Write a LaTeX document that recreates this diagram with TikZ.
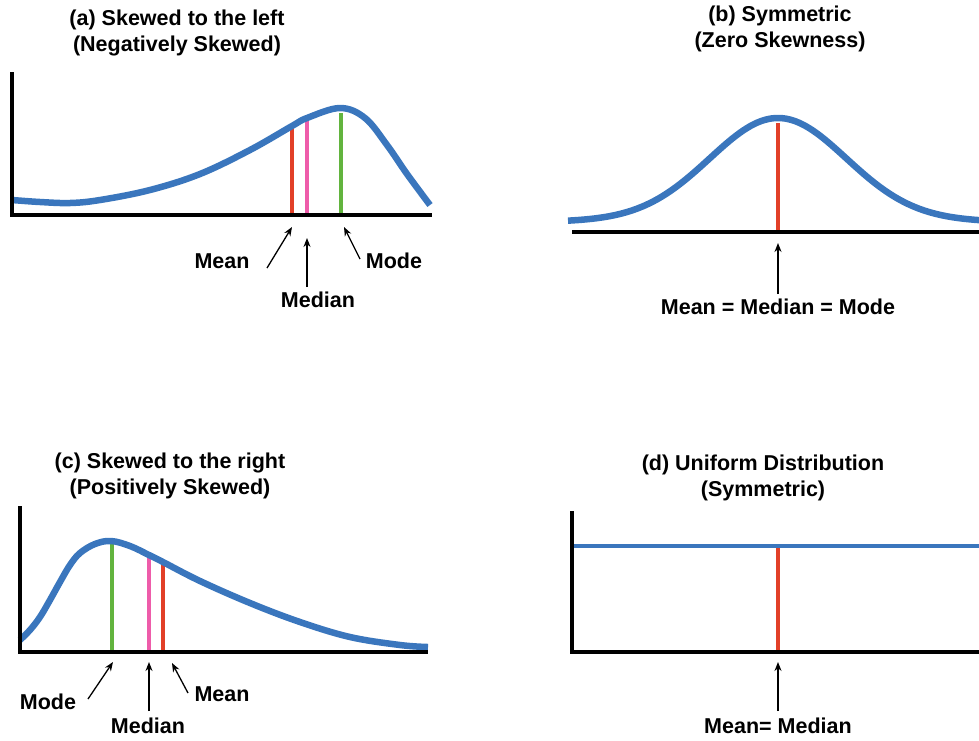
\documentclass[tikz,border=0pt]{standalone}
\usepackage{fontspec}
\setmainfont{Liberation Sans}
\usetikzlibrary{arrows.meta}
\definecolor{curveblue}{RGB}{58,118,189}
\definecolor{meanred}{RGB}{226,64,40}
\definecolor{medpink}{RGB}{238,92,170}
\definecolor{modegreen}{RGB}{98,180,62}
\begin{document}
\begin{tikzpicture}[x=1pt, y=-1pt,
  axis/.style={line width=4pt, line join=miter},
  curve/.style={curveblue, line width=6.5pt},
  statline/.style={line width=3.8pt},
  pointer/.style={-{Stealth[length=9pt,width=7pt]}, line width=1.3pt},
  lbl/.style={font=\fontsize{21.5}{24}\selectfont\bfseries, inner sep=0pt},
  ttl/.style={font=\fontsize{21.5}{26}\selectfont\bfseries, align=center, inner sep=0pt}]
  \useasboundingbox (0,0) rectangle (979,740);

  % (a) skewed to the left
  \node[ttl] (titleA) at (177,33) {(a) Skewed to the left\\(Negatively Skewed)};
  \draw[statline, meanred] (292,215) -- (292,127);
  \draw[statline, medpink] (307,215) -- (307,119);
  \draw[statline, modegreen] (341,215) -- (341,113);
  \draw[curve] plot[smooth, tension=0.6] coordinates {(12,200) (40,202) (70,203) (100,200) (150,190) (200,174) (250,150) (292,126) (307,118) (340,108) (365,118) (387,145) (407,174) (430,205)};
  \draw[axis] (12,72) -- (12,215) -- (432,215);
  \node[lbl] (meanA) at (222,261) {Mean};
  \node[lbl] (medianA) at (318,300) {Median};
  \node[lbl] (modeA) at (394,261) {Mode};
  \coordinate (meanAfrom) at (267,268);
  \coordinate (meanAto) at (292,227);
  \coordinate (medianAfrom) at (307,287);
  \coordinate (medianAto) at (307,238);
  \coordinate (modeAfrom) at (360,259);
  \coordinate (modeAto) at (344,227);
  \draw[pointer] (meanAfrom) -- (meanAto);
  \draw[pointer] (medianAfrom) -- (medianAto);
  \draw[pointer] (modeAfrom) -- (modeAto);

  % (b) symmetric
  \node[ttl] (titleB) at (780,29) {(b) Symmetric\\(Zero Skewness)};
  \draw[statline, meanred] (778,232) -- (778,123);
  \draw[curve, domain=568:985, samples=120] plot (\x, {223-101*exp(-0.5*((\x-778)/68)^2) - 4*exp(-0.5*((\x-778)/150)^2)});
  \draw[axis] (572,232) -- (979,232);
  \node[lbl] (allB) at (778,307) {Mean = Median = Mode};
  \coordinate (allBfrom) at (778,294);
  \coordinate (allBto) at (778,243);
  \draw[pointer] (allBfrom) -- (allBto);

  % (c) skewed to the right
  \node[ttl] (titleC) at (170,476) {(c) Skewed to the right\\(Positively Skewed)};
  \draw[statline, modegreen] (112,652) -- (112,541);
  \draw[statline, medpink] (149,652) -- (149,557);
  \draw[statline, meanred] (163,652) -- (163,564);
  \draw[curve] plot[smooth, tension=0.6] coordinates {(20,640) (30,630) (40,617) (50,600) (60,582) (70,565) (80,553) (95,544) (111,541) (130,546) (149,555) (163,562) (200,581) (250,603) (300,622) (350,637) (400,645) (428,647)};
  \draw[axis] (20,506) -- (20,652) -- (428,652);
  \node[lbl] (modeC) at (48,702) {Mode};
  \node[lbl] (medianC) at (148,726) {Median};
  \node[lbl] (meanC) at (222,694) {Mean};
  \coordinate (modeCfrom) at (88,699);
  \coordinate (modeCto) at (113,662);
  \coordinate (medianCfrom) at (149,711);
  \coordinate (medianCto) at (149,662);
  \coordinate (meanCfrom) at (188,693);
  \coordinate (meanCto) at (172,663);
  \draw[pointer] (modeCfrom) -- (modeCto);
  \draw[pointer] (medianCfrom) -- (medianCto);
  \draw[pointer] (meanCfrom) -- (meanCto);

  % (d) uniform
  \node[ttl] (titleD) at (763,478) {(d) Uniform Distribution\\(Symmetric)};
  \draw[statline, meanred] (778,652) -- (778,546);
  \draw[curveblue, line width=4pt] (574,546) -- (979,546);
  \draw[axis] (572,511) -- (572,652) -- (979,652);
  \node[lbl] (eqD) at (778,726) {Mean= Median};
  \coordinate (eqDfrom) at (778,711);
  \coordinate (eqDto) at (778,662);
  \draw[pointer] (eqDfrom) -- (eqDto);
\end{tikzpicture}
\end{document}
